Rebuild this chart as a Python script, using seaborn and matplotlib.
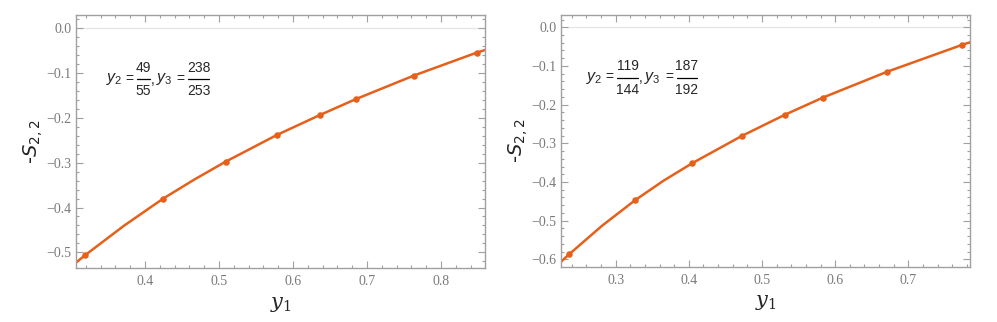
import numpy as np
import pandas as pd
import matplotlib
matplotlib.use("Agg")
import matplotlib.pyplot as plt
from matplotlib.ticker import MultipleLocator, FuncFormatter
from matplotlib.lines import Line2D
import seaborn as sns

# values
# left panel: y2 = 49/55, y3 = 238/253
left_pts_x = [0.3189, 0.4247, 0.5090, 0.5784, 0.6365, 0.6851, 0.7631, 0.8482]
left_pts_y = [-0.5067, -0.380, -0.2977, -0.238, -0.1935, -0.158, -0.1057, -0.0544]
left_curve_x = [0.3068, 0.3189, 0.3718, 0.4247, 0.4668, 0.5090, 0.5784, 0.6365, 0.6851, 0.7631, 0.8482, 0.8595]
left_curve_y = [-0.523, -0.5067, -0.4405, -0.380, -0.3375, -0.2977, -0.238, -0.1935, -0.158, -0.1057, -0.0544, -0.0484]

# right panel: y2 = 119/144, y3 = 187/192
right_pts_x = [0.2362, 0.3268, 0.4043, 0.4722, 0.5314, 0.5829, 0.6712, 0.7729]
right_pts_y = [-0.587, -0.4466, -0.3517, -0.2811, -0.226, -0.182, -0.1148, -0.0458]
right_curve_x = [0.2248, 0.2362, 0.2815, 0.3268, 0.3655, 0.4043, 0.4722, 0.5314, 0.5829, 0.6712, 0.7729, 0.7843]
right_curve_y = [-0.607, -0.587, -0.5128, -0.4466, -0.3965, -0.3517, -0.2811, -0.226, -0.182, -0.1148, -0.0458, -0.0388]

# fractions shown in the panel annotations
y2_frac = [("49", "55"), ("119", "144")]
y3_frac = [("238", "253"), ("187", "192")]

xlims = [(0.3068, 0.8595), (0.2248, 0.7843)]
ylims = [(-0.535, 0.0297), (-0.619, 0.0326)]

orange = "#E5601A"
frame = "#a0a0a0"
tick_col = "#7a7a7a"
W, H = 997, 322

sns.set_style("ticks")
plt.rcParams["mathtext.fontset"] = "custom"
plt.rcParams["mathtext.rm"] = "Liberation Sans"
plt.rcParams["mathtext.it"] = "Liberation Sans:italic"

fig = plt.figure(figsize=(W / 100, H / 100), dpi=100)
axes = [fig.add_axes([0.0762, 0.1677, 0.4102, 0.7857]),
        fig.add_axes([0.5624, 0.1717, 0.4105, 0.7827])]

panels = [(left_curve_x, left_curve_y, left_pts_x, left_pts_y),
          (right_curve_x, right_curve_y, right_pts_x, right_pts_y)]

# annotation layout in pixels: start x, bar y, frac1 (x0,x1), frac2 (x0,x1)
ann_layout = [(106, 79, (137, 150), (188, 209)),
              (586, 77.5, (617, 638), (676.5, 697))]


def ftext(x, y, s, **kw):
    fig.text(x / W, 1 - y / H, s, family="Liberation Sans", **kw)


def fraction(x0, x1, ybar, num, den):
    fig.add_artist(Line2D([x0 / W, x1 / W], [1 - ybar / H, 1 - ybar / H],
                          transform=fig.transFigure, color="black", lw=0.9))
    xc = (x0 + x1) / 2
    ftext(xc, ybar - 11.5, num, ha="center", va="center", fontsize=10)
    ftext(xc, ybar + 12, den, ha="center", va="center", fontsize=10)
    ftext(x0 - 7.5, ybar, "=", ha="center", va="center", fontsize=10)


for i, ax in enumerate(axes):
    cx, cy, px, py = panels[i]
    curve = pd.DataFrame({"y1": cx, "s": cy})
    pts = pd.DataFrame({"y1": px, "s": py})
    ax.axhline(0, color="#e6e6e6", lw=0.9, zorder=0)
    sns.lineplot(data=curve, x="y1", y="s", ax=ax, color=orange, lw=1.8,
                 sort=False, estimator=None)
    sns.scatterplot(data=pts, x="y1", y="s", ax=ax, color=orange, s=22,
                    edgecolor=orange, linewidth=0, zorder=3)
    ax.set_xlim(*xlims[i])
    ax.set_ylim(*ylims[i])

    ax.xaxis.set_major_locator(MultipleLocator(0.1))
    ax.xaxis.set_minor_locator(MultipleLocator(0.02))
    ax.yaxis.set_major_locator(MultipleLocator(0.1))
    ax.yaxis.set_minor_locator(MultipleLocator(0.02))
    ax.tick_params(which="both", direction="in", top=True, right=True,
                   color=frame, width=0.8)
    ax.tick_params(which="major", length=5, labelsize=10, labelcolor=tick_col)
    ax.tick_params(axis="y", which="major", pad=3)
    ax.tick_params(axis="x", which="major", pad=5)
    ax.tick_params(which="minor", length=2.5)
    ax.xaxis.set_major_formatter(FuncFormatter(lambda v, p: f"{v:.1f}"))
    ax.yaxis.set_major_formatter(FuncFormatter(
        lambda v, p: f"{v:.1f}".replace("-", "\u2212") if abs(v) > 1e-9 else "0.0"))
    for lab in ax.get_xticklabels() + ax.get_yticklabels():
        lab.set_fontfamily("Liberation Serif")
    for sp in ax.spines.values():
        sp.set_color(frame)
        sp.set_linewidth(1.0)

    ax.set_xlabel(r"$y_1$", fontsize=15, labelpad=4)
    ax.set_ylabel(r"-$S_{2,2}$", fontsize=14, labelpad=1, color="#222222")
    ax.xaxis.label.set_math_fontfamily("dejavuserif")
    ax.yaxis.label.set_math_fontfamily("dejavusans")

    # annotation "y2 = a/b, y3 = c/d"
    sx, yb, f1, f2 = ann_layout[i]
    ftext(sx, yb, r"$y_2$", ha="left", va="center", fontsize=11.5)
    fraction(f1[0], f1[1], yb, *y2_frac[i])
    ftext(f1[1] + 0.5, yb + 1, ",", ha="left", va="center", fontsize=10)
    ftext(f1[1] + 6, yb, r"$y_3$", ha="left", va="center", fontsize=11.5)
    fraction(f2[0], f2[1], yb, *y3_frac[i])

fig.savefig("out.png", dpi=100)
